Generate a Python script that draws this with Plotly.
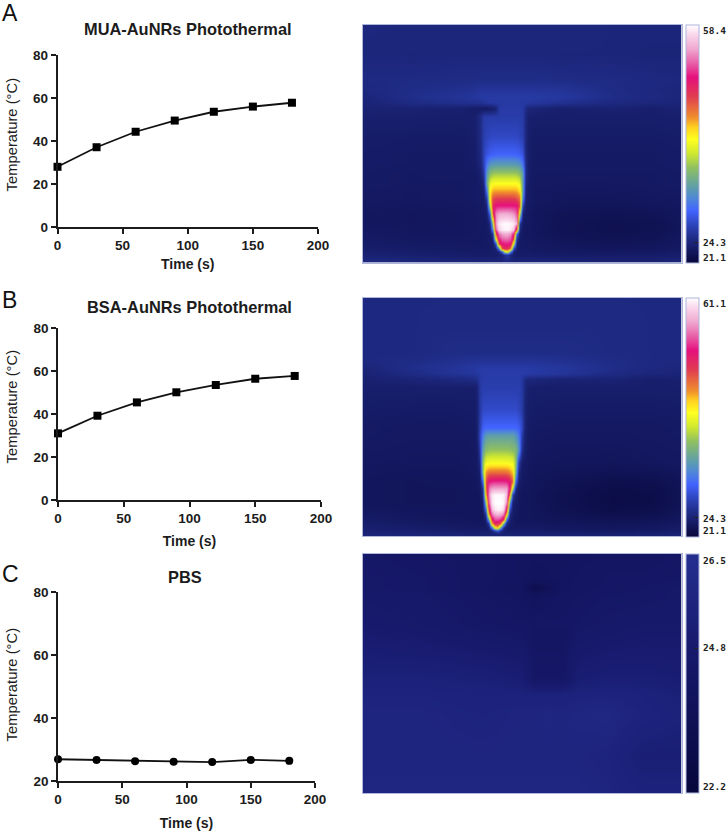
import plotly.graph_objects as go

W, H = 727, 834

time_s = [0, 30, 60, 90, 120, 150, 180]
mua_temp = [28.0, 37.1, 44.3, 49.5, 53.6, 56.0, 57.8]
bsa_temp = [31.0, 39.2, 45.4, 50.1, 53.5, 56.4, 57.7]
pbs_temp = [26.9, 26.7, 26.3, 26.1, 26.0, 26.7, 26.4]

thermal_colors = [
    [0.00, "#07073a"], [0.05, "#13175e"], [0.10, "#1e2a82"], [0.15, "#2a3fb0"],
    [0.22, "#4263ff"], [0.27, "#4f86d8"], [0.32, "#5f9fa8"], [0.40, "#90c060"],
    [0.46, "#d0e830"], [0.52, "#ffff20"], [0.57, "#ffd020"], [0.61, "#f0902c"],
    [0.70, "#e03c50"], [0.78, "#e6107c"], [0.84, "#e860a8"], [0.90, "#f0a8d0"],
    [0.96, "#fad8ec"], [1.00, "#ffffff"],
]
pbs_colors = [[0.0, "#07073c"], [0.6, "#17196c"], [1.0, "#242f90"]]

# thermal image A, degrees C
a_x = [0, 50, 100, 112, 118, 121, 124, 127, 130, 133, 136, 139, 142, 145, 148, 151, 154, 157, 160, 163, 166, 172, 200, 250, 290, 319]
a_y = [0, 30, 55, 66, 72, 78, 84, 92, 112, 129, 139, 149, 159, 167, 174, 181, 189, 199, 205, 209, 214, 219, 224, 227, 230, 238]
a_z = [
 [24.6,24.5,24.5,24.5, 24.5,24.5,24.5,24.5,24.5,24.5,24.5,24.5,24.5,24.5,24.5,24.5,24.5,24.5,24.5,24.5,24.5, 24.5,24.5,24.4,24.4,24.4],
 [24.5,24.4,24.5,24.5, 24.5,24.5,24.5,24.5,24.5,24.5,24.5,24.5,24.5,24.5,24.5,24.5,24.5,24.5,24.5,24.5,24.5, 24.5,24.4,24.4,24.3,24.3],
 [24.8,24.9,25.0,25.0, 25.1,25.1,25.1,25.1,25.1,25.1,25.1,25.1,25.1,25.1,25.1,25.1,25.1,25.1,25.1,25.1,25.1, 25.1,25.0,24.9,24.7,24.6],
 [24.6,25.1,25.4,25.6, 25.8,25.8,25.8,25.8,25.8,25.8,25.8,25.8,25.8,25.8,25.8,25.8,25.8,25.8,25.8,25.8,25.8, 25.8,25.7,25.0,24.6,24.4],
 [24.4,25.2,25.7,25.9, 26.2,26.2,26.2,26.2,26.2,26.2,26.2,26.2,26.2,26.2,26.2,26.2,26.2,26.2,26.2,26.2,26.2, 26.2,26.0,25.1,24.7,24.5],
 [24.2,24.9,25.3,25.4, 25.5,25.7,25.9,26.1,26.1,26.1,26.1,26.1,26.1,26.1,26.1,26.1,26.1,26.1,26.1,26.1,26.1, 25.9,25.4,24.7,24.5,24.3],
 [24.0,24.0,23.8,23.5, 23.4,23.3,23.3,23.4,23.6,24.2,26.0,26.3,26.3,26.3,26.3,26.3,26.3,26.3,26.2,25.0,24.2, 24.2,23.7,24.0,23.7,24.0],
 [23.8,23.8,23.7,23.8, 25.0,26.3,26.4,26.4,26.4,26.4,26.4,26.4,26.4,26.4,26.4,26.4,26.4,26.4,26.3,24.6,23.8, 23.7,23.7,23.7,23.7,23.8],
 [23.5,23.4,23.4,23.6, 25.0,26.6,27.0,27.3,27.4,27.4,27.4,27.4,27.4,27.4,27.4,27.4,27.4,27.0,26.6,24.5,23.6, 23.4,23.4,23.4,23.4,23.5],
 [23.4,23.3,23.3,23.5, 24.8,27.0,28.2,28.8,29.0,29.2,29.2,29.2,29.2,29.2,29.2,29.2,29.0,28.8,28.0,24.6,23.6, 23.3,23.3,23.3,23.3,23.4],
 [23.4,23.3,23.3,23.5, 24.5,27.0,30.2,31.8,32.3,32.5,32.5,32.5,32.5,32.5,32.5,32.5,32.3,31.8,30.0,25.0,23.5, 23.3,23.3,23.3,23.3,23.4],
 [23.3,23.2,23.3,23.3, 23.8,26.0,32.5,35.5,36.4,36.6,36.6,36.6,36.6,36.6,36.6,36.6,36.4,35.5,33.0,25.0,23.5, 23.2,23.2,23.2,23.2,23.3],
 [23.3,23.2,23.2,23.3, 23.5,24.5,34.0,39.0,40.5,40.6,40.6,40.6,40.6,40.6,40.6,40.6,40.5,39.5,33.0,24.5,23.4, 23.2,23.1,23.1,23.2,23.3],
 [23.2,23.1,23.2,23.3, 23.4,23.8,30.0,41.0,43.5,43.8,43.8,43.8,43.8,43.8,43.8,43.8,43.5,42.0,33.0,24.0,23.4, 23.1,23.0,23.0,23.1,23.2],
 [23.2,23.1,23.2,23.3, 23.4,23.5,26.5,41.0,46.5,47.2,47.4,47.4,47.4,47.4,47.4,47.2,46.5,45.0,31.0,23.8,23.4, 23.1,22.9,22.9,23.0,23.1],
 [23.1,23.0,23.1,23.2, 23.3,23.4,24.5,37.0,48.5,50.2,50.4,50.4,50.4,50.4,50.4,50.4,50.2,46.0,27.0,23.5,23.3, 23.0,22.8,22.7,22.9,23.0],
 [23.0,22.9,23.0,23.1, 23.2,23.3,23.6,29.0,47.0,53.5,54.6,55.0,55.0,55.0,54.6,54.0,52.0,38.0,24.0,23.3,23.2, 22.9,22.6,22.5,22.6,22.9],
 [23.0,22.9,23.0,23.1, 23.2,23.2,23.3,24.5,36.0,54.0,57.5,58.0,58.2,58.2,58.0,57.5,55.0,26.0,23.4,23.1,23.1, 22.9,22.5,22.3,22.4,22.8],
 [23.1,23.0,23.0,23.1, 23.2,23.2,23.3,23.8,31.0,52.0,56.5,57.5,58.0,58.0,57.5,56.0,46.0,24.5,23.2,23.1,23.1, 22.9,22.5,22.3,22.4,22.8],
 [23.2,23.0,23.0,23.1, 23.2,23.2,23.3,23.5,26.0,46.0,53.0,54.5,55.0,55.0,54.0,50.0,30.0,23.6,23.2,23.1,23.1, 22.9,22.6,22.4,22.5,22.9],
 [23.3,23.1,23.1,23.2, 23.2,23.2,23.3,23.4,24.0,40.0,50.5,52.5,53.0,53.0,52.0,46.0,26.0,23.5,23.2,23.1,23.1, 23.0,22.7,22.5,22.6,23.0],
 [23.4,23.3,23.2,23.2, 23.2,23.2,23.3,23.4,23.6,28.0,47.0,50.0,50.5,50.5,50.0,38.0,24.0,23.3,23.2,23.2,23.2, 23.1,22.9,22.7,22.8,23.1],
 [23.6,23.4,23.3,23.3, 23.3,23.3,23.3,23.4,23.5,24.0,30.0,46.0,48.0,48.0,44.0,27.0,23.7,23.3,23.3,23.3,23.3, 23.2,23.1,22.9,23.0,23.3],
 [23.8,23.6,23.4,23.4, 23.4,23.4,23.4,23.5,23.5,23.6,24.2,28.0,38.0,40.0,30.0,24.2,23.4,23.4,23.4,23.4,23.4, 23.3,23.2,23.1,23.2,23.5],
 [24.0,23.8,23.6,23.5, 23.5,23.5,23.5,23.5,23.6,23.6,23.8,24.0,25.5,26.0,24.5,23.7,23.5,23.5,23.5,23.5,23.5, 23.5,23.4,23.4,23.5,23.7],
 [24.8,24.6,24.4,24.4, 24.4,24.4,24.4,24.4,24.4,24.4,24.5,24.5,24.5,24.5,24.5,24.4,24.4,24.4,24.4,24.4,24.4, 24.4,24.3,24.2,24.2,24.4],
]

# thermal image B, degrees C
b_x = [0, 50, 90, 105, 111, 114, 117, 120, 123, 126, 129, 132, 135, 138, 141, 144, 147, 150, 153, 156, 159, 162, 165, 171, 200, 250, 290, 319]
b_y = [0, 30, 55, 64, 70, 76, 82, 90, 112, 130, 138, 151, 164, 174, 183, 190, 196, 204, 211, 216, 221, 225, 229, 232, 235, 238]
b_z = [
 [25.0,25.0,25.0,25.0, 25.0,25.0,25.0,25.0,25.0,25.0,25.0,25.0,25.0,25.0,25.0,25.0,25.0,25.0,25.0,25.0,25.0,25.0,25.0, 25.0,25.0,25.0,25.0,25.0],
 [25.0,25.0,25.1,25.1, 25.1,25.1,25.1,25.1,25.1,25.1,25.1,25.1,25.1,25.1,25.1,25.1,25.1,25.1,25.1,25.1,25.1,25.1,25.1, 25.1,25.1,25.1,25.0,25.0],
 [25.0,25.0,25.3,25.3, 25.3,25.3,25.3,25.3,25.3,25.3,25.3,25.3,25.3,25.3,25.3,25.3,25.3,25.3,25.3,25.3,25.3,25.3,25.3, 25.3,25.3,25.1,25.0,25.0],
 [24.9,25.3,25.7,25.9, 25.9,26.0,26.0,26.0,26.0,26.0,26.0,26.0,26.0,26.0,26.0,26.0,26.0,26.0,26.0,26.0,26.0,26.0,26.0, 26.0,25.8,25.3,25.0,24.9],
 [24.5,25.5,26.0,26.3, 26.4,26.5,26.6,26.6,26.6,26.6,26.6,26.6,26.6,26.6,26.6,26.6,26.6,26.6,26.6,26.6,26.6,26.6,26.6, 26.5,26.2,25.4,24.9,24.7],
 [24.3,25.2,25.9,26.1, 26.2,26.4,26.6,26.8,26.8,26.8,26.8,26.8,26.8,26.8,26.8,26.8,26.8,26.8,26.8,26.8,26.8,26.8,26.6, 26.5,26.1,25.1,24.7,24.5],
 [24.1,24.4,24.8,25.0, 25.2,25.4,26.4,26.8,26.8,26.8,26.8,26.8,26.8,26.8,26.8,26.8,26.8,26.8,26.8,26.8,26.4,25.2,24.6, 24.6,24.2,24.3,23.8,24.1],
 [23.9,23.9,23.9,23.8, 23.8,24.2,26.4,27.0,27.0,27.0,27.0,27.0,27.0,27.0,27.0,27.0,27.0,27.0,27.0,27.0,26.6,24.8,24.0, 23.9,23.9,23.9,23.9,23.9],
 [23.6,23.5,23.5,23.6, 23.6,24.0,26.4,27.8,28.0,28.0,28.0,28.0,28.0,28.0,28.0,28.0,28.0,28.0,28.0,27.5,26.8,24.6,23.8, 23.6,23.5,23.5,23.5,23.6],
 [23.4,23.3,23.3,23.4, 23.4,23.8,27.0,29.5,30.0,30.0,30.0,30.0,30.0,30.0,30.0,30.0,30.0,30.0,30.0,29.5,28.0,24.6,23.6, 23.4,23.3,23.3,23.3,23.4],
 [23.4,23.3,23.3,23.3, 23.4,23.8,27.5,31.5,33.5,34.0,34.0,34.0,34.0,34.0,34.0,34.0,34.0,34.0,33.0,31.0,27.0,24.2,23.5, 23.3,23.2,23.2,23.3,23.4],
 [23.3,23.2,23.2,23.2, 23.3,23.5,26.5,34.0,36.5,37.0,37.2,37.2,37.2,37.2,37.2,37.2,37.0,36.6,36.0,33.0,26.0,24.0,23.4, 23.2,23.1,23.1,23.2,23.3],
 [23.2,23.1,23.1,23.2, 23.3,23.4,25.0,37.0,41.0,41.5,41.6,41.6,41.6,41.6,41.6,41.5,41.4,41.0,37.0,27.0,23.8,23.4,23.3, 23.1,23.0,22.9,23.1,23.2],
 [23.1,23.0,23.0,23.1, 23.2,23.3,24.0,36.0,45.5,47.0,47.2,47.2,47.2,47.2,47.2,47.0,46.0,44.0,35.0,25.0,23.5,23.3,23.2, 23.0,22.8,22.6,22.7,23.0],
 [23.0,22.9,23.0,23.0, 23.1,23.2,23.5,30.0,48.0,52.5,53.0,53.2,53.2,53.2,53.2,53.0,51.5,47.0,30.0,24.0,23.3,23.2,23.1, 22.9,22.6,22.2,22.3,22.8],
 [23.0,22.9,22.9,23.0, 23.1,23.1,23.4,26.0,46.0,55.0,57.0,57.2,57.2,57.2,57.2,57.0,52.0,38.0,25.0,23.5,23.2,23.1,23.1, 22.9,22.5,22.0,22.1,22.7],
 [23.0,22.9,22.9,23.0, 23.0,23.0,23.2,25.0,44.0,56.0,60.0,60.8,60.8,60.8,60.5,58.0,46.0,27.0,24.0,23.3,23.1,23.0,23.0, 22.8,22.4,21.9,22.0,22.7],
 [23.0,22.9,22.9,23.0, 23.0,23.0,23.0,24.0,36.0,54.0,60.0,61.0,61.1,61.1,60.5,56.0,34.0,24.0,23.6,23.2,23.0,23.0,23.0, 22.8,22.4,21.9,22.0,22.7],
 [23.2,23.0,23.0,23.0, 23.0,23.0,23.0,23.5,30.0,50.0,58.0,60.0,60.5,60.5,59.0,50.0,28.0,23.8,23.4,23.2,23.0,23.0,23.0, 22.9,22.5,22.0,22.2,22.8],
 [23.4,23.1,23.0,23.0, 22.9,23.0,23.0,23.2,26.0,44.0,55.0,57.0,57.5,57.0,55.0,42.0,25.0,23.6,23.3,23.1,23.0,23.0,23.0, 22.9,22.6,22.3,22.4,23.0],
 [23.6,23.3,23.1,23.1, 23.0,23.0,23.0,23.1,24.0,34.0,50.0,54.0,54.0,53.0,49.0,30.0,24.0,23.5,23.2,23.1,23.0,23.0,23.0, 23.0,22.8,22.6,22.7,23.2],
 [23.8,23.5,23.3,23.2, 23.2,23.2,23.2,23.2,23.4,26.0,44.0,50.0,50.0,47.0,34.0,24.5,23.6,23.4,23.2,23.2,23.2,23.2,23.2, 23.2,23.0,22.9,23.0,23.4],
 [24.0,23.7,23.5,23.4, 23.4,23.4,23.4,23.4,23.4,24.0,30.0,42.0,44.0,34.0,25.0,23.5,23.5,23.4,23.4,23.4,23.4,23.4,23.4, 23.4,23.2,23.1,23.2,23.6],
 [24.2,24.0,23.8,23.7, 23.7,23.7,23.7,23.7,23.7,23.8,24.5,27.0,29.0,25.5,24.0,23.8,23.7,23.7,23.7,23.7,23.7,23.7,23.7, 23.7,23.5,23.4,23.5,23.8],
 [24.5,24.4,24.2,24.1, 24.1,24.1,24.1,24.1,24.1,24.1,24.2,24.2,24.4,24.3,24.2,24.1,24.1,24.1,24.1,24.1,24.1,24.1,24.1, 24.1,24.0,23.9,24.0,24.2],
 [24.9,24.8,24.6,24.6, 24.6,24.6,24.6,24.6,24.6,24.6,24.6,24.6,24.6,24.6,24.6,24.6,24.6,24.6,24.6,24.6,24.6,24.6,24.6, 24.6,24.5,24.4,24.4,24.6],
]

# thermal image C, degrees C
c_x = [0, 60, 120, 160, 172, 185, 200, 215, 245, 280, 319]
c_y = [0, 25, 34, 42, 70, 80, 125, 140, 160, 200, 238]
c_z = [
 [24.5,24.4,24.3,24.2,24.2,24.2,24.2,24.2,24.3,24.3,24.4],
 [24.6,24.5,24.3,24.2,24.0,24.1,24.2,24.3,24.4,24.4,24.5],
 [24.6,24.5,24.3,24.1,23.2,23.7,24.2,24.3,24.4,24.5,24.6],
 [24.7,24.6,24.4,24.2,24.0,24.2,24.3,24.4,24.5,24.5,24.6],
 [24.8,24.7,24.5,24.4,24.4,24.4,24.4,24.5,24.6,24.7,24.7],
 [24.9,24.8,24.6,24.5,24.3,24.3,24.3,24.6,24.7,24.8,24.8],
 [25.4,25.4,25.3,25.1,24.5,24.5,24.5,25.1,25.2,25.2,25.1],
 [25.6,25.6,25.5,25.5,25.5,25.5,25.5,25.6,25.6,25.5,25.3],
 [25.7,25.7,25.6,25.7,25.7,25.8,25.7,25.8,25.9,25.6,25.4],
 [25.7,25.7,25.7,25.7,25.7,25.7,25.7,25.7,25.6,25.2,25.2],
 [25.8,25.8,25.8,25.8,25.8,25.8,25.8,25.8,25.7,25.5,25.5],
]

panel_letters = ["A", "B", "C"]
titles = ["MUA-AuNRs Photothermal", "BSA-AuNRs Photothermal", "PBS"]
ytitle = "Temperature (°C)"
xtitle = "Time (s)"


def px(x):
    return x / W


def py(y):
    return 1 - y / H


INK = "#1c1c1c"
SANS = "Liberation Sans, Arial, sans-serif"
MONO = "DejaVu Sans Mono, monospace"
BORDER = "#aeb6dc"

fig = go.Figure()
annotations = []

line_panels = [
    dict(x0=57.5, x1=318, y0=55, y1=227, yr=[0, 80], yt=[0, 20, 40, 60, 80], vals=mua_temp, sym="square", size=8,
         title_xy=(188, 29), ytitle_y=135, letter_y=13, xt_standoff=7),
    dict(x0=58, x1=321, y0=328, y1=500, yr=[0, 80], yt=[0, 20, 40, 60, 80], vals=bsa_temp, sym="square", size=8,
         title_xy=(189, 307), ytitle_y=407, letter_y=300, xt_standoff=11),
    dict(x0=58, x1=315, y0=592, y1=781, yr=[20, 80], yt=[20, 40, 60, 80], vals=pbs_temp, sym="circle", size=8,
         title_xy=(185, 577), ytitle_y=685, letter_y=574, xt_standoff=12),
]

for i, p in enumerate(line_panels):
    n = "" if i == 0 else str(i + 1)
    fig.add_trace(go.Scatter(x=time_s, y=p["vals"], mode="lines+markers", xaxis=f"x{n}", yaxis=f"y{n}",
                             line=dict(color="#111111", width=1.8),
                             marker=dict(symbol=p["sym"], size=p["size"], color="#000000"),
                             cliponaxis=False, showlegend=False))
    axis = dict(showgrid=False, zeroline=False, showline=True, linecolor=INK, linewidth=1.5, ticks="outside",
                ticklen=5, tickwidth=1.5, tickcolor=INK,
                tickfont=dict(family=SANS, size=13.5, color=INK, weight="bold"))
    fig.layout[f"xaxis{n}"] = go.layout.XAxis(domain=[px(p["x0"]), px(p["x1"])], range=[0, 200],
                                              tickvals=[0, 50, 100, 150, 200], anchor=f"y{n}",
                                              title=dict(text=xtitle, standoff=p["xt_standoff"],
                                                         font=dict(family=SANS, size=14, color=INK, weight="bold")),
                                              **axis)
    fig.layout[f"yaxis{n}"] = go.layout.YAxis(domain=[py(p["y1"]), py(p["y0"])], range=p["yr"], tickvals=p["yt"],
                                              anchor=f"x{n}", **axis)
    annotations.append(dict(text=titles[i], x=px(p["title_xy"][0]), y=py(p["title_xy"][1]), xref="paper", yref="paper",
                            showarrow=False, xanchor="center", yanchor="middle",
                            font=dict(family=SANS, size=16.4, color=INK, weight="bold")))
    annotations.append(dict(text=ytitle, x=px(11.5), y=py(p["ytitle_y"]), xref="paper", yref="paper", textangle=-90,
                            showarrow=False, xanchor="center", yanchor="middle",
                            font=dict(family=SANS, size=14.8, color=INK)))
    annotations.append(dict(text=panel_letters[i], x=px(0), y=py(p["letter_y"]), xref="paper", yref="paper",
                            showarrow=False, xanchor="left", yanchor="middle",
                            font=dict(family=SANS, size=23, color="#111111")))

heat_panels = [
    dict(x=a_x, y=a_y, z=a_z, zmin=21.1, zmax=58.4, colors=thermal_colors, top=24.5, bottom=262.7, tick=24.3,
         labels=[("58.4", 31), ("24.3", 243), ("21.1", 257)]),
    dict(x=b_x, y=b_y, z=b_z, zmin=21.1, zmax=61.1, colors=thermal_colors, top=297.5, bottom=536.3, tick=24.3,
         labels=[("61.1", 304), ("24.3", 518), ("21.1", 530)]),
    dict(x=c_x, y=c_y, z=c_z, zmin=22.2, zmax=26.5, colors=pbs_colors, top=554, bottom=793, tick=24.8,
         labels=[("26.5", 560), ("24.8", 647), ("22.2", 786)]),
]

for i, h in enumerate(heat_panels):
    n = str(i + 4)
    fig.add_trace(go.Heatmap(
        x=h["x"], y=h["y"], z=h["z"], zmin=h["zmin"], zmax=h["zmax"], colorscale=h["colors"], zsmooth="best",
        xaxis=f"x{n}", yaxis=f"y{n}",
        colorbar=dict(thickness=13, thicknessmode="pixels", len=h["bottom"] - h["top"], lenmode="pixels",
                      x=px(686), xanchor="left", y=py(h["top"]), yanchor="top", xpad=0, ypad=0,
                      outlinecolor=BORDER, outlinewidth=1, borderwidth=0,
                      tickmode="array", tickvals=[h["tick"]], showticklabels=False,
                      ticks="inside", ticklen=5, tickwidth=1, tickcolor="#222222")))
    ax = dict(showgrid=False, zeroline=False, showticklabels=False, ticks="", showline=True, linecolor=BORDER,
              linewidth=1, mirror=True)
    fig.layout[f"xaxis{n}"] = go.layout.XAxis(domain=[px(362.5), px(681.5)], range=[0, 319], anchor=f"y{n}", **ax)
    fig.layout[f"yaxis{n}"] = go.layout.YAxis(domain=[py(h["bottom"]), py(h["top"])], range=[238, 0], anchor=f"x{n}", **ax)
    for text, yy in h["labels"]:
        annotations.append(dict(text=text, x=px(700.5), y=py(yy), xref="paper", yref="paper", showarrow=False,
                                xanchor="left", yanchor="middle",
                                font=dict(family=MONO, size=9.5, color="#222222", weight="bold")))

fig.update_layout(width=W, height=H, margin=dict(l=0, r=0, t=0, b=0, autoexpand=False), paper_bgcolor="white",
                  plot_bgcolor="white", showlegend=False, annotations=annotations)

fig.write_html("out.html", config={"displayModeBar": False}, post_script="document.body.style.margin='0';")
